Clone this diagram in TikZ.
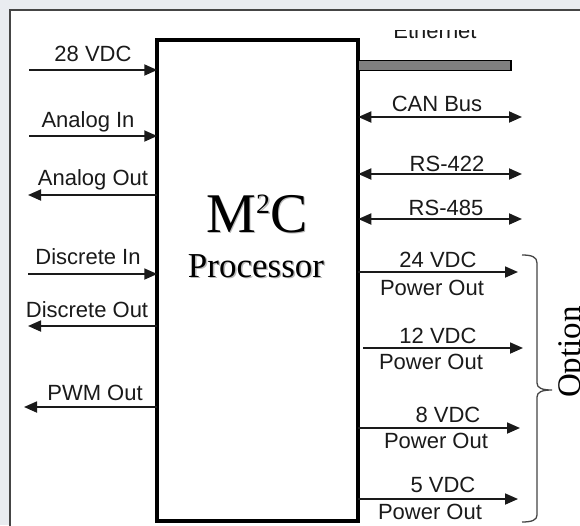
\documentclass[tikz,border=0pt]{standalone}
\usepackage{fontspec}
\setmainfont{Liberation Sans}
\newfontfamily\serifrm{Liberation Serif}
\usetikzlibrary{arrows.meta}
\definecolor{bgpane}{HTML}{E9ECF0}
\definecolor{framegray}{HTML}{454545}
\definecolor{sigblack}{HTML}{1A1A1A}
\definecolor{ethgray}{HTML}{7F7F7F}

\begin{document}
\begin{tikzpicture}[x=1pt, y=-1pt,
  sig/.style={line width=1.8pt, draw=sigblack, -{Triangle[length=13pt,width=11pt]}},
  bisig/.style={sig, {Triangle[length=13pt,width=11pt]}-{Triangle[length=13pt,width=11pt]}},
  lbl/.style={anchor=base, inner sep=0pt, text=sigblack, font=\fontsize{22}{22}\selectfont},
  ttl/.style={anchor=base, inner sep=0pt, font=\serifrm\fontsize{#1}{#1}\selectfont}]
\useasboundingbox (0,0) rectangle (580,525);
\clip (0,0) rectangle (580,525);
\fill[bgpane] (0,0) rectangle (580,525);
\draw[line width=1.5pt, draw=framegray, fill=white] (10,10) rectangle (600,545);

% processor box
\node[draw, line width=4pt, minimum width=201pt, minimum height=481pt, inner sep=0pt, outer sep=0pt] (proc) at (257.75,280) {};
\node[ttl=56, text=gray!55] (mcshade) at (258.5,233.5) {M\raisebox{19pt}{\fontsize{28}{28}\selectfont 2}C};
\node[ttl=56] (mc) at (257,232) {M\raisebox{19pt}{\fontsize{28}{28}\selectfont 2}C};
\node[ttl=35, text=gray!55] (procshade) at (257.5,278.5) {Processor};
\node[ttl=35] (proclbl) at (256,277) {Processor};

% left side
\coordinate (vin) at (29,70);
\coordinate (ain) at (29,136);
\coordinate (aout) at (28,195);
\coordinate (din) at (28,274);
\coordinate (dout) at (28,326);
\coordinate (pwm) at (24,407);
\draw[sig] (vin) -- (vin -| proc.west);
\draw[sig] (ain) -- (ain -| proc.west);
\draw[sig] (aout -| proc.west) -- (aout);
\draw[sig] (din) -- (din -| proc.west);
\draw[sig] (dout -| proc.west) -- (dout);
\draw[sig] (pwm -| proc.west) -- (pwm);
\node[lbl] (vinlbl) at (93,61) {28 VDC};
\node[lbl] (ainlbl) at (88,127) {Analog In};
\node[lbl] (aoutlbl) at (93,185) {Analog Out};
\node[lbl] (dinlbl) at (88,264) {Discrete In};
\node[lbl] (doutlbl) at (87,317) {Discrete Out};
\node[lbl] (pwmlbl) at (95,400) {PWM Out};

% right side
\begin{scope}
\clip (0,30) rectangle (580,60);
\node[lbl] (ethlbl) at (435,38) {Ethernet};
\end{scope}
\coordinate (ethy) at (0,65.5);
\node[draw=black, fill=ethgray, line width=1.5pt, minimum width=152.75pt, minimum height=10pt, inner sep=0pt, outer sep=0pt, anchor=west] (eth) at (proc.east |- ethy) {};
\coordinate (can) at (522,117);
\coordinate (rsa) at (522,174);
\coordinate (rsb) at (522,219);
\draw[bisig] (can -| proc.east) -- (can);
\draw[bisig] (rsa -| proc.east) -- (rsa);
\draw[bisig] (rsb -| proc.east) -- (rsb);
\node[lbl] (canlbl) at (437,111) {CAN Bus};
\node[lbl] (rsalbl) at (447,171) {RS-422};
\node[lbl] (rsblbl) at (446,215) {RS-485};

\coordinate (pa) at (518,272);
\coordinate (pbs) at (363,348);
\coordinate (pb) at (523,348);
\coordinate (pc) at (520,428);
\coordinate (pd) at (518,499);
\draw[sig] (pa -| proc.east) -- (pa);
\draw[sig] (pbs) -- (pb);
\draw[sig] (pc -| proc.east) -- (pc);
\draw[sig] (pd -| proc.east) -- (pd);
\node[lbl] (palbl) at (438,267) {24 VDC};
\node[lbl] (pawlbl) at (432,295) {Power Out};
\node[lbl] (pblbl) at (438,343) {12 VDC};
\node[lbl] (pbwlbl) at (431,369) {Power Out};
\node[lbl] (pclbl) at (448,422) {8 VDC};
\node[lbl] (pcwlbl) at (436,448) {Power Out};
\node[lbl] (pdlbl) at (443,492) {5 VDC};
\node[lbl] (pdwlbl) at (430,519) {Power Out};

% option brace
\draw[line width=1.3pt, draw=framegray] (522,255) .. controls (532,255) and (537,257) .. (537,263) -- (537,383)
  .. controls (537,388) and (542,390) .. (552,390) .. controls (542,390) and (537,392) .. (537,397) -- (537,515)
  .. controls (537,520) and (532,522) .. (522,522);
\node[ttl=33, rotate=90] (optlbl) at (580,352) {Option};
\end{tikzpicture}
\end{document}
